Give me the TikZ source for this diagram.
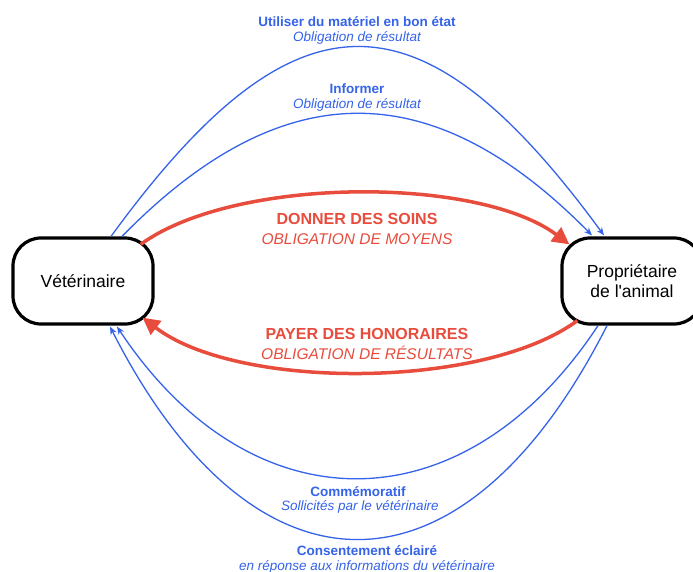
\documentclass[tikz,border=0pt]{standalone}
\usepackage{fontspec}
\setmainfont{Liberation Sans}
\usetikzlibrary{arrows.meta,calc}
\definecolor{myblue}{HTML}{3563E9}
\definecolor{myred}{HTML}{E84C3D}
\begin{document}
\begin{tikzpicture}[x=1pt,y=-1pt,
  actor/.style={draw=black, line width=3.2pt, rounded corners=28pt, minimum width=140pt, minimum height=86pt, align=center, font=\fontsize{17.5}{20}\selectfont, inner sep=0pt},
  blueline/.style={draw=myblue, line width=1.3pt, -{Stealth[length=8pt,width=6.5pt]}},
  redline/.style={draw=myred, line width=3.5pt, -{Triangle[length=17pt,width=17pt]}},
  bluetitle/.style={text=myblue, font=\bfseries\fontsize{13.5}{16}\selectfont, inner sep=0pt},
  bluesub/.style={text=myblue, font=\itshape\fontsize{13.5}{16}\selectfont, inner sep=0pt},
  redtitle/.style={text=myred, font=\bfseries\fontsize{16}{19}\selectfont, inner sep=0pt},
  redsub/.style={text=myred, font=\itshape\fontsize{15.5}{19}\selectfont, inner sep=0pt},
]
\useasboundingbox (0,0) rectangle (693,572);
\fill[white] (0,0) rectangle (693,572);

\node[actor] (vet) at (83,281) {Vétérinaire};
\node[actor] (prop) at (632,281) {Propriétaire\\de l\textquotesingle animal};

% top blue
\draw[blueline] ($(vet.north)+(28,0)$) .. controls (295,-16) and (420,-16) .. ($(prop.north)+(-28,-1)$);
\draw[blueline] ($(vet.north)+(39,0)$) .. controls (282,73) and (432,73) .. ($(prop.north)+(-40,-1)$);
% bottom blue
\draw[blueline] ($(prop.south)+(-25,0)$) .. controls (463,610) and (254,610) .. ($(vet.south)+(27,1)$);
\draw[blueline] ($(prop.south)+(-34,0)$) .. controls (464,529) and (251,529) .. ($(vet.south)+(34,1)$);
% red
\draw[redline] ($(vet.north east)+(-14,8)$) .. controls (235,176) and (478,176) .. ($(prop.north west)+(9,8)$);
\draw[redline] ($(prop.south west)+(17,-5)$) .. controls (483,390) and (237,390) .. ($(vet.south east)+(-12,-8)$);

\node[bluetitle] (t1) at (357,22) {Utiliser du matériel en bon état};
\node[bluesub] (s1) at (357,38) {Obligation de résultat};
\node[bluetitle] (t2) at (357,89) {Informer};
\node[bluesub] (s2) at (357,105) {Obligation de résultat};
\node[redtitle] (r1) at (357,219) {DONNER DES SOINS};
\node[redsub] (r2) at (357,239) {OBLIGATION DE MOYENS};
\node[redtitle] (r3) at (367,334) {PAYER DES HONORAIRES};
\node[redsub] (r4) at (367,353) {OBLIGATION DE RÉSULTATS};
\node[bluetitle] (t3) at (358,492) {Commémoratif};
\node[bluesub] (s3) at (360,507) {Sollicités par le vétérinaire};
\node[bluetitle] (t4) at (367,551) {Consentement éclairé};
\node[bluesub] (s4) at (367,567) {en réponse aux informations du vétérinaire};
\end{tikzpicture}
\end{document}
